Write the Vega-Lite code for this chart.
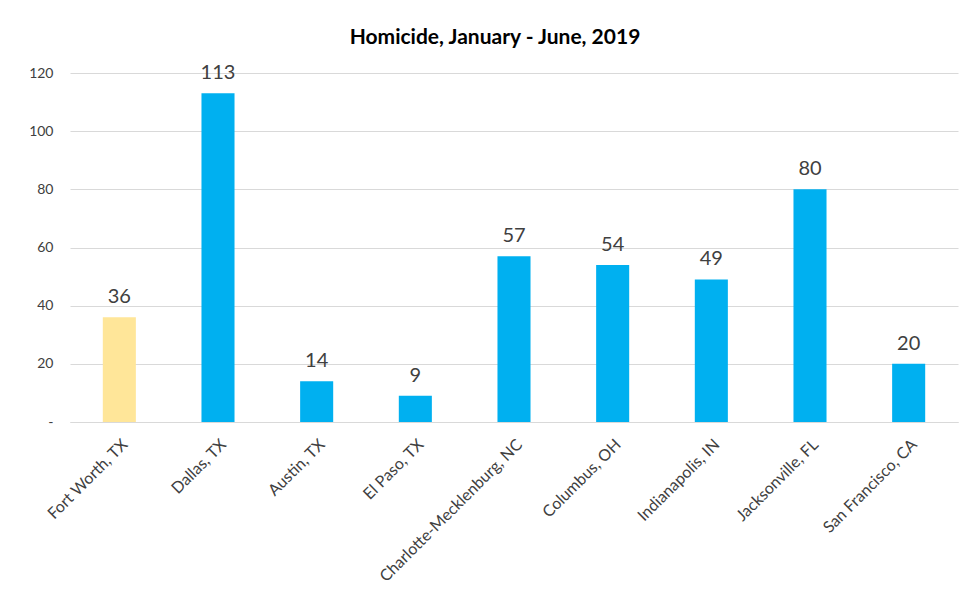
{
  "$schema": "https://vega.github.io/schema/vega-lite/v6.json",
  "width": 888,
  "height": 349,
  "autosize": "none",
  "padding": {"left": 70, "top": 73, "right": 6, "bottom": 183},
  "background": "white",
  "config": {"view": {"stroke": null}, "font": "Lato"},
  "title": {"text": "Homicide, January - June, 2019", "fontSize": 21, "font": "Lato", "fontWeight": "bold", "color": "black", "offset": 15, "dx": -19},
  "data": {"values": [
    {"city": "Fort Worth, TX", "homicides": 36, "group": "focus"},
    {"city": "Dallas, TX", "homicides": 113, "group": "other"},
    {"city": "Austin, TX", "homicides": 14, "group": "other"},
    {"city": "El Paso, TX", "homicides": 9, "group": "other"},
    {"city": "Charlotte-Mecklenburg, NC", "homicides": 57, "group": "other"},
    {"city": "Columbus, OH", "homicides": 54, "group": "other"},
    {"city": "Indianapolis, IN", "homicides": 49, "group": "other"},
    {"city": "Jacksonville, FL", "homicides": 80, "group": "other"},
    {"city": "San Francisco, CA", "homicides": 20, "group": "other"}
  ]},
  "encoding": {
    "x": {"field": "city", "type": "nominal", "sort": null,
      "scale": {"paddingInner": 0.665, "paddingOuter": 0.3325},
      "axis": {"title": null, "labelAngle": -45, "labelFontSize": 16, "labelColor": "#404040", "labelPadding": 14, "labelLimit": 400, "ticks": false, "domainColor": "#d9d9d9", "labelFont": "Lato"}},
    "y": {"field": "homicides", "type": "quantitative",
      "scale": {"domain": [0, 120], "nice": false},
      "axis": {"title": null, "values": [0, 20, 40, 60, 80, 100, 120], "labelExpr": "datum.value == 0 ? '-' : datum.label", "gridColor": "#d9d9d9", "domain": false, "ticks": false, "labelPadding": 17, "labelFontSize": 14, "labelColor": "#404040", "labelFont": "Lato"}}
  },
  "layer": [
    {"mark": {"type": "bar"},
     "encoding": {"color": {"field": "group", "type": "nominal", "scale": {"domain": ["focus", "other"], "range": ["#FFE699", "#00B0F0"]}, "legend": null}}},
    {"mark": {"type": "text", "dy": -10, "fontSize": 20, "color": "#404040", "font": "Lato", "baseline": "bottom"},
     "encoding": {"text": {"field": "homicides", "type": "quantitative"}}}
  ]
}
